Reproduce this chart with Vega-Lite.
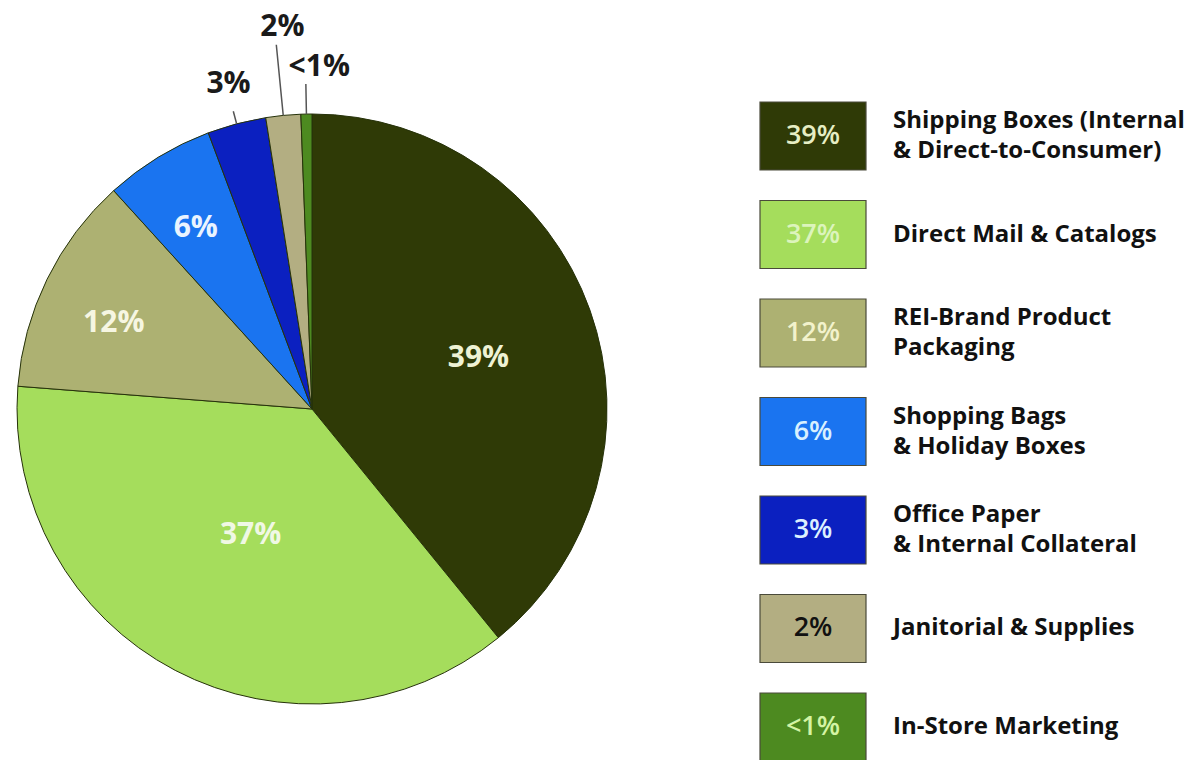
{
  "$schema": "https://vega.github.io/schema/vega-lite/v6.json",
  "autosize": {"type": "pad"},
  "padding": {"top": 12, "left": 0, "right": 0, "bottom": 0},
  "background": "white",
  "config": {"view": {"stroke": null}, "text": {"font": "Open Sans"}},
  "datasets": {
    "shares": [
      {"rank": 1, "cat": "Shipping Boxes (Internal & Direct-to-Consumer)", "pct": "39%", "value": 39, "label": "Shipping Boxes (Internal\n& Direct-to-Consumer)"},
      {"rank": 2, "cat": "Direct Mail & Catalogs", "pct": "37%", "value": 37, "label": "Direct Mail & Catalogs"},
      {"rank": 3, "cat": "REI-Brand Product Packaging", "pct": "12%", "value": 12, "label": "REI-Brand Product\nPackaging"},
      {"rank": 4, "cat": "Shopping Bags & Holiday Boxes", "pct": "6%", "value": 6, "label": "Shopping Bags\n& Holiday Boxes"},
      {"rank": 5, "cat": "Office Paper & Internal Collateral", "pct": "3%", "value": 3.2, "label": "Office Paper\n& Internal Collateral"},
      {"rank": 6, "cat": "Janitorial & Supplies", "pct": "2%", "value": 1.9, "label": "Janitorial & Supplies"},
      {"rank": 7, "cat": "In-Store Marketing", "pct": "<1%", "value": 0.6, "label": "In-Store Marketing"}
    ]
  },
  "spacing": 136,
  "bounds": "flush",
  "hconcat": [
    {
      "width": 624,
      "height": 700,
      "data": {"name": "shares"},
      "layer": [
        {
          "mark": {"type": "arc", "radius": 295, "stroke": "#26320a", "strokeWidth": 1},
          "encoding": {
            "theta": {"field": "value", "type": "quantitative", "stack": true},
            "order": {"field": "rank", "type": "quantitative"},
            "color": {
              "field": "cat", "type": "nominal", "legend": null,
              "scale": {
                "domain": ["Shipping Boxes (Internal & Direct-to-Consumer)", "Direct Mail & Catalogs", "REI-Brand Product Packaging", "Shopping Bags & Holiday Boxes", "Office Paper & Internal Collateral", "Janitorial & Supplies", "In-Store Marketing"],
                "range": ["#2f3a06", "#a5dd5c", "#adb172", "#1a74f0", "#0b20c0", "#b3ae82", "#4d8a20"]
              }
            }
          }
        },
        {
          "mark": {"type": "text", "radius": 174, "thetaOffset": 0.047, "fontSize": 30, "fontWeight": "bold", "color": "#eef2d4", "baseline": "middle"},
          "encoding": {
            "theta": {"field": "value", "type": "quantitative", "stack": true},
            "order": {"field": "rank", "type": "quantitative"},
            "text": {"condition": {"test": "datum.rank === 1", "field": "pct"}, "value": ""}
          }
        },
        {
          "mark": {"type": "text", "radius": 140, "thetaOffset": -0.028, "fontSize": 30, "fontWeight": "bold", "color": "#f0f8e4", "baseline": "middle"},
          "encoding": {
            "theta": {"field": "value", "type": "quantitative", "stack": true},
            "order": {"field": "rank", "type": "quantitative"},
            "text": {"condition": {"test": "datum.rank === 2", "field": "pct"}, "value": ""}
          }
        },
        {
          "mark": {"type": "text", "radius": 216, "thetaOffset": -0.047, "fontSize": 30, "fontWeight": "bold", "color": "#f6f6e2", "baseline": "middle"},
          "encoding": {
            "theta": {"field": "value", "type": "quantitative", "stack": true},
            "order": {"field": "rank", "type": "quantitative"},
            "text": {"condition": {"test": "datum.rank === 3", "field": "pct"}, "value": ""}
          }
        },
        {
          "mark": {"type": "text", "radius": 215, "thetaOffset": -0.023, "fontSize": 30, "fontWeight": "bold", "color": "#eaf4ff", "baseline": "middle"},
          "encoding": {
            "theta": {"field": "value", "type": "quantitative", "stack": true},
            "order": {"field": "rank", "type": "quantitative"},
            "text": {"condition": {"test": "datum.rank === 4", "field": "pct"}, "value": ""}
          }
        },
        {
          "transform": [
            {"stack": "value", "groupby": [], "sort": [{"field": "rank", "order": "ascending"}], "as": ["v0", "v1"]},
            {"filter": "datum.rank === 5"}
          ],
          "mark": {"type": "arc", "radius": 308, "radius2": 295, "padAngle": 1, "fill": "transparent", "stroke": "#555555", "strokeWidth": 1.5},
          "encoding": {
            "theta": {"field": "v0", "type": "quantitative", "stack": null},
            "theta2": {"field": "v1"}
          }
        },
        {
          "transform": [
            {"stack": "value", "groupby": [], "sort": [{"field": "rank", "order": "ascending"}], "as": ["v0", "v1"]},
            {"filter": "datum.rank === 6"}
          ],
          "mark": {"type": "arc", "radius": 366, "radius2": 295, "padAngle": 1, "fill": "transparent", "stroke": "#555555", "strokeWidth": 1.5},
          "encoding": {
            "theta": {"field": "v0", "type": "quantitative", "stack": null},
            "theta2": {"field": "v1"}
          }
        },
        {
          "transform": [
            {"stack": "value", "groupby": [], "sort": [{"field": "rank", "order": "ascending"}], "as": ["v0", "v1"]},
            {"filter": "datum.rank === 7"}
          ],
          "mark": {"type": "arc", "radius": 325, "radius2": 295, "padAngle": 1, "fill": "transparent", "stroke": "#555555", "strokeWidth": 1.5},
          "encoding": {
            "theta": {"field": "v0", "type": "quantitative", "stack": null},
            "theta2": {"field": "v1"}
          }
        },
        {
          "transform": [
            {"stack": "value", "groupby": [], "sort": [{"field": "rank", "order": "ascending"}], "as": ["v0", "v1"]},
            {"filter": "datum.rank === 5"}
          ],
          "mark": {"type": "text", "radius": 336, "thetaOffset": 0.108, "fontSize": 30, "fontWeight": "bold", "color": "#1a1a1a", "baseline": "middle"},
          "encoding": {
            "theta": {"field": "v0", "type": "quantitative", "stack": null},
            "text": {"field": "pct"}
          }
        },
        {
          "transform": [
            {"stack": "value", "groupby": [], "sort": [{"field": "rank", "order": "ascending"}], "as": ["v0", "v1"]},
            {"filter": "datum.rank === 6"}
          ],
          "mark": {"type": "text", "radius": 383, "thetaOffset": 0.08, "fontSize": 30, "fontWeight": "bold", "color": "#1a1a1a", "baseline": "middle"},
          "encoding": {
            "theta": {"field": "v0", "type": "quantitative", "stack": null},
            "text": {"field": "pct"}
          }
        },
        {
          "transform": [
            {"stack": "value", "groupby": [], "sort": [{"field": "rank", "order": "ascending"}], "as": ["v0", "v1"]},
            {"filter": "datum.rank === 7"}
          ],
          "mark": {"type": "text", "radius": 342, "thetaOffset": 0.059, "fontSize": 30, "fontWeight": "bold", "color": "#1a1a1a", "baseline": "middle"},
          "encoding": {
            "theta": {"field": "v0", "type": "quantitative", "stack": null},
            "text": {"field": "pct"}
          }
        }
      ]
    },
    {
      "spacing": 27,
      "bounds": "flush",
      "hconcat": [
        {
          "width": 106,
          "height": 702,
          "data": {"name": "shares"},
          "encoding": {
            "y": {
              "field": "cat", "type": "nominal", "axis": null,
              "scale": {
                "type": "band",
                "domain": ["Shipping Boxes (Internal & Direct-to-Consumer)", "Direct Mail & Catalogs", "REI-Brand Product Packaging", "Shopping Bags & Holiday Boxes", "Office Paper & Internal Collateral", "Janitorial & Supplies", "In-Store Marketing"],
                "paddingInner": 0.3096, "paddingOuter": 0.2183, "align": 1
              }
            }
          },
          "layer": [
            {
              "mark": {"type": "rect", "stroke": "#4a4a3a", "strokeWidth": 1.2},
              "encoding": {
                "color": {"field": "cat", "type": "nominal", "legend": null}
              }
            },
            {
              "mark": {"type": "text", "fontSize": 27, "fontWeight": 600, "baseline": "middle", "align": "center"},
              "encoding": {
                "text": {"field": "pct"},
                "color": {
                  "condition": [
                    {"test": "datum.rank === 1", "value": "#e6eec4"},
                    {"test": "datum.rank === 2", "value": "#dcf4bc"},
                    {"test": "datum.rank === 3", "value": "#f2f2cc"},
                    {"test": "datum.rank === 4", "value": "#d8f0ff"},
                    {"test": "datum.rank === 5", "value": "#dcf0ff"},
                    {"test": "datum.rank === 6", "value": "#111111"}
                  ],
                  "value": "#d4f4a4"
                }
              }
            }
          ]
        },
        {
          "width": 303,
          "height": 702,
          "data": {"name": "shares"},
          "encoding": {
            "y": {
              "field": "cat", "type": "nominal", "axis": null,
              "scale": {
                "type": "band",
                "domain": ["Shipping Boxes (Internal & Direct-to-Consumer)", "Direct Mail & Catalogs", "REI-Brand Product Packaging", "Shopping Bags & Holiday Boxes", "Office Paper & Internal Collateral", "Janitorial & Supplies", "In-Store Marketing"],
                "paddingInner": 0.3096, "paddingOuter": 0.2183, "align": 1
              }
            },
            "x": {"datum": 0, "type": "quantitative", "scale": {"domain": [0, 1]}, "axis": null},
            "text": {"field": "label"}
          },
          "layer": [
            {
              "transform": [{"filter": "datum.rank === 2 || datum.rank === 6 || datum.rank === 7"}],
              "mark": {"type": "text", "fontSize": 24, "fontWeight": "bold", "color": "#111111", "align": "left", "baseline": "middle"}
            },
            {
              "transform": [{"filter": "datum.rank === 1 || datum.rank === 3 || datum.rank === 4 || datum.rank === 5"}],
              "mark": {"type": "text", "fontSize": 24, "fontWeight": "bold", "color": "#111111", "align": "left", "baseline": "middle", "lineBreak": "\n", "lineHeight": 30, "dy": -15}
            }
          ]
        }
      ]
    }
  ]
}
